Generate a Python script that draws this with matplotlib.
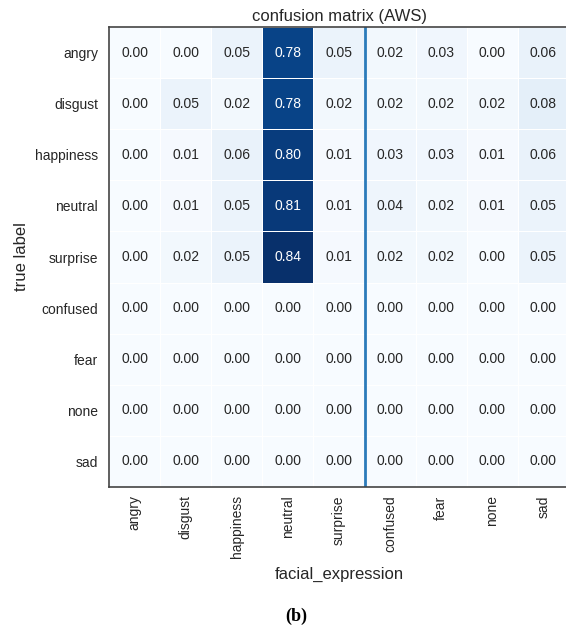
import numpy as np
import matplotlib
matplotlib.use("Agg")
import matplotlib.pyplot as plt

plt.rcParams['font.family'] = ['Liberation Sans', 'DejaVu Sans']

true_labels = ["angry", "disgust", "happiness", "neutral", "surprise",
               "confused", "fear", "none", "sad"]
pred_labels = ["angry", "disgust", "happiness", "neutral", "surprise",
               "confused", "fear", "none", "sad"]

row_angry = [0.00, 0.00, 0.05, 0.78, 0.05, 0.02, 0.03, 0.00, 0.06]
row_disgust = [0.00, 0.05, 0.02, 0.78, 0.02, 0.02, 0.02, 0.02, 0.08]
row_happiness = [0.00, 0.01, 0.06, 0.80, 0.01, 0.03, 0.03, 0.01, 0.06]
row_neutral = [0.00, 0.01, 0.05, 0.81, 0.01, 0.04, 0.02, 0.01, 0.05]
row_surprise = [0.00, 0.02, 0.05, 0.84, 0.01, 0.02, 0.02, 0.00, 0.05]
row_confused = [0.00] * 9
row_fear = [0.00] * 9
row_none = [0.00] * 9
row_sad = [0.00] * 9

cm = np.array([row_angry, row_disgust, row_happiness, row_neutral, row_surprise,
               row_confused, row_fear, row_none, row_sad])

fig = plt.figure(figsize=(5.66, 6.29), dpi=100)
ax = fig.add_axes([109 / 566, (629 - 487) / 629, 460 / 566, 460 / 629])

n_rows, n_cols = cm.shape
ax.pcolormesh(np.arange(n_cols + 1), np.arange(n_rows + 1), cm,
              cmap="Blues", vmin=0, vmax=cm.max(),
              edgecolors="white", linewidth=0.6)
ax.set_xlim(0, n_cols)
ax.set_ylim(n_rows, 0)

thresh = cm.max() / 2
for i in range(n_rows):
    for j in range(n_cols):
        v = cm[i, j]
        ax.text(j + 0.5, i + 0.5, f"{v:.2f}", ha="center", va="center",
                fontsize=10, color="white" if v > thresh else "#262626")

# boundary between the labels shared by both label sets and the extra ones
ax.axvline(5, color="#2b7bba", linewidth=2)

ax.set_xticks(np.arange(n_cols) + 0.5)
ax.set_xticklabels(pred_labels, rotation=90, fontsize=10, color="#262626")
ax.set_yticks(np.arange(n_rows) + 0.5)
ax.set_yticklabels(true_labels, fontsize=10, color="#262626")
ax.tick_params(axis="x", length=0, pad=6)
ax.tick_params(axis="y", length=0, pad=8)

for side in ["left", "top", "bottom", "right"]:
    ax.spines[side].set_color("#444444")
    ax.spines[side].set_linewidth(1.2)

ax.set_title("confusion matrix (AWS)", fontsize=12, color="#262626", pad=4)
ax.set_xlabel("facial_expression", fontsize=12, color="#262626", labelpad=6)
ax.set_ylabel("true label", fontsize=12, color="#262626", labelpad=4)

fig.text(296 / 566, 1 - 616 / 629, "(b)", ha="center", va="center",
         fontsize=13, fontweight="bold", family="Liberation Serif")

fig.savefig("out.png", dpi=100)
